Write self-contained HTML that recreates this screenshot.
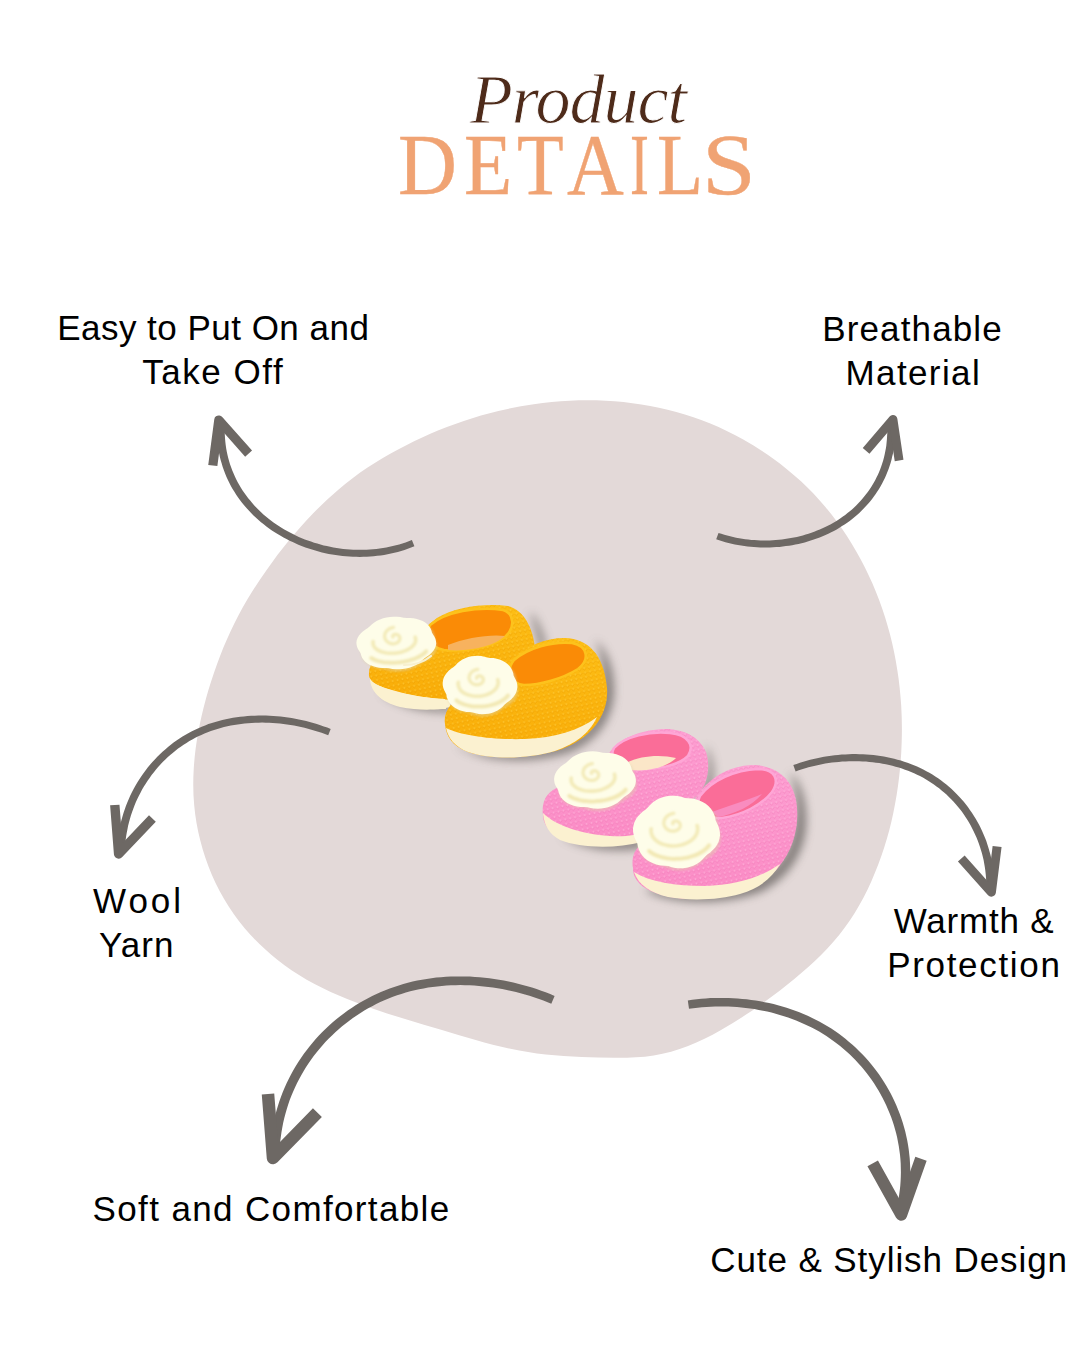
<!DOCTYPE html>
<html>
<head>
<meta charset="utf-8">
<style>
html,body{margin:0;padding:0;background:#fff;}
body{width:1080px;height:1350px;position:relative;overflow:hidden;font-family:"Liberation Sans",sans-serif;}
svg.main{position:absolute;left:0;top:0;}
.pl{position:absolute;top:65px;font-family:"Liberation Serif",serif;font-style:italic;color:#4e2b1a;font-size:70px;line-height:70px;transform-origin:0 0;}
.dl{position:absolute;top:121.4px;font-family:"Liberation Serif",serif;color:#f0a373;-webkit-text-stroke:0.4px #f0a373;font-size:87.6px;line-height:87.6px;transform-origin:0 0;}
.t{position:absolute;color:#000;font-family:"Liberation Sans",sans-serif;font-size:35px;line-height:35px;white-space:nowrap;}
</style>
</head>
<body>
<svg class="main" width="1080" height="1350" viewBox="0 0 1080 1350">
<defs>
<filter id="sh" x="-20%" y="-20%" width="140%" height="140%"><feGaussianBlur stdDeviation="4"/></filter>
</defs>
<path id="blob" fill="#e3d9d8" d="M267.0,569.4 C273.9,559.6 281.1,550.1 288.7,540.8 C296.3,531.6 304.2,522.6 312.5,514.0 C320.8,505.4 329.5,497.1 338.6,489.4 C347.7,481.6 357.3,474.5 367.2,467.8 C377.2,461.2 387.5,455.1 398.1,449.4 C408.6,443.8 419.4,438.6 430.3,433.8 C441.3,429.1 452.5,424.8 463.8,421.0 C475.2,417.1 486.7,413.8 498.4,411.0 C510.1,408.2 521.9,406.0 533.8,404.3 C545.7,402.5 557.7,401.4 569.7,400.8 C581.6,400.2 593.6,400.2 605.6,400.8 C617.6,401.4 629.5,402.6 641.3,404.5 C653.1,406.4 664.8,408.9 676.3,412.1 C687.8,415.2 699.2,419.1 710.3,423.6 C721.4,428.2 732.3,433.5 742.8,439.3 C753.3,445.2 763.5,451.7 773.3,458.7 C783.0,465.7 792.2,473.3 801.0,481.3 C809.7,489.4 817.9,498.1 825.6,507.2 C833.3,516.3 840.4,526.0 846.9,536.0 C853.5,546.1 859.4,556.5 864.8,567.3 C870.2,578.1 875.0,589.1 879.3,600.4 C883.5,611.7 887.1,623.1 890.1,634.7 C893.1,646.3 895.5,658.0 897.3,669.9 C899.2,681.7 900.4,693.6 901.2,705.5 C901.9,717.5 902.1,729.4 901.7,741.4 C901.4,753.4 900.5,765.4 899.1,777.3 C897.7,789.3 895.8,801.1 893.3,812.9 C890.9,824.6 887.8,836.2 884.2,847.6 C880.5,859.0 876.3,870.2 871.4,881.2 C866.5,892.1 861.0,902.8 854.7,913.0 C848.4,923.2 841.3,932.8 833.4,941.8 C825.5,950.8 816.9,959.3 808.0,967.3 C799.0,975.3 789.7,983.0 780.3,990.3 C770.8,997.6 761.2,1004.6 751.2,1011.3 C741.3,1017.9 731.1,1024.3 720.6,1030.2 C710.0,1036.2 699.2,1041.6 688.1,1046.0 C676.9,1050.3 665.5,1053.6 653.7,1055.4 C642.0,1057.2 630.0,1057.8 617.9,1057.8 C605.9,1057.9 593.8,1057.5 581.7,1057.0 C569.7,1056.5 557.7,1055.8 545.8,1054.5 C533.9,1053.2 522.2,1051.4 510.5,1048.8 C498.8,1046.3 487.2,1043.2 475.7,1039.9 C464.1,1036.6 452.6,1033.1 441.1,1029.7 C429.6,1026.3 418.1,1023.0 406.7,1019.5 C395.2,1016.0 383.8,1012.4 372.5,1008.4 C361.1,1004.5 349.9,1000.3 338.9,995.6 C327.9,990.8 317.1,985.6 306.7,979.7 C296.4,973.7 286.4,967.0 277.0,959.5 C267.6,952.1 258.7,943.8 250.6,935.0 C242.5,926.1 235.2,916.5 228.7,906.4 C222.2,896.3 216.6,885.7 211.8,874.7 C207.1,863.7 203.2,852.3 200.3,840.6 C197.3,829.0 195.3,817.2 194.2,805.3 C193.1,793.4 193.0,781.4 193.7,769.5 C194.4,757.6 195.8,745.6 198.0,733.8 C200.1,722.0 202.8,710.2 206.0,698.6 C209.3,687.0 212.9,675.5 217.0,664.3 C221.0,653.0 225.5,642.0 230.6,631.2 C235.6,620.4 241.2,609.8 247.3,599.5 C253.5,589.2 260.1,579.2 267.0,569.4Z"/>
<defs>
<linearGradient id="go" x1="0" y1="0" x2="0" y2="1"><stop offset="0" stop-color="#fdbf16"/><stop offset="1" stop-color="#f9ac08"/></linearGradient>
<linearGradient id="gp" x1="0" y1="0" x2="0" y2="1"><stop offset="0" stop-color="#fd9fd2"/><stop offset="1" stop-color="#fb8bc5"/></linearGradient>
<radialGradient id="gf" cx="0.5" cy="0.45" r="0.55"><stop offset="0" stop-color="#fcf6cc"/><stop offset="0.6" stop-color="#fefce6"/><stop offset="1" stop-color="#f6f1d6"/></radialGradient>
<pattern id="knitO" width="5" height="4.5" patternUnits="userSpaceOnUse" patternTransform="rotate(-12)"><path d="M0.5,1 L2.5,3.2 L4.5,1" fill="none" stroke="#e99a00" stroke-width="0.9" opacity="0.45"/><circle cx="2.5" cy="1" r="0.9" fill="#ffd24a" opacity="0.5"/></pattern>
<pattern id="knitP" width="5" height="4.5" patternUnits="userSpaceOnUse" patternTransform="rotate(-12)"><path d="M0.5,1 L2.5,3.2 L4.5,1" fill="none" stroke="#ee78b4" stroke-width="0.9" opacity="0.45"/><circle cx="2.5" cy="1" r="0.9" fill="#ffc0e2" opacity="0.5"/></pattern>
<pattern id="knitC" width="4" height="6" patternUnits="userSpaceOnUse" patternTransform="rotate(-8)"><path d="M2,0.5 L2,5" stroke="#e6dcb8" stroke-width="1" opacity="0.6"/></pattern>
<filter id="blur6" x="-30%" y="-30%" width="160%" height="160%"><feGaussianBlur stdDeviation="5"/></filter>
<filter id="blur05" x="-10%" y="-10%" width="120%" height="120%"><feGaussianBlur stdDeviation="0.45"/></filter>
<filter id="blur1" x="-20%" y="-20%" width="140%" height="140%"><feGaussianBlur stdDeviation="0.9"/></filter>
<filter id="blur2" x="-10%" y="-10%" width="120%" height="120%"><feGaussianBlur stdDeviation="0.8"/></filter>
</defs>
<!-- ===== ORANGE PAIR ===== -->
<g id="orange">
  <!-- shadows -->
  <path fill="#6f6a68" opacity="0.75" filter="url(#blur6)" d="M380,690 C395,708 430,714 460,712 C500,708 530,690 545,660 L545,640 C540,625 535,615 530,612 L540,650 C530,690 480,705 440,705 Z"/>
  <path fill="#6f6a68" opacity="0.8" filter="url(#blur6)" d="M455,745 C480,762 530,765 570,752 C600,740 614,715 614,690 C614,665 605,648 595,640 C605,660 606,700 590,725 C570,748 520,755 470,750 Z"/>
  <!-- back shoe -->
  <path fill="#fbf1d0" d="M370,676 C369,690 380,702 400,707 C420,711 440,710 450,707 L452,690 L372,676 Z"/>
  <path fill="url(#go)" d="M369,676 C368,662 378,652 398,646 C415,640 424,628 437,618 C455,607 485,603 508,606 C524,610 533,628 535,648 L536,668 C520,690 490,700 460,700 C430,700 405,694 385,688 C376,685 370,681 369,676 Z"/>
  <path fill="url(#knitO)" d="M369,676 C368,662 378,652 398,646 C415,640 424,628 437,618 C455,607 485,603 508,606 C524,610 533,628 535,648 L536,668 C520,690 490,700 460,700 C430,700 405,694 385,688 C376,685 370,681 369,676 Z"/>
  <path fill="#fbf1d0" d="M372,682 C385,690 410,697 445,699 L446,709 C420,710 395,706 382,699 C375,694 372,688 372,682 Z"/>
  <path fill="#fa8b06" stroke="#fdc21c" stroke-width="2.5" d="M430,625 C445,612 478,606 503,610 C515,614 515,628 505,637 C490,648 462,652 444,650 C430,648 425,634 430,625 Z"/>
  <path fill="#f7b25e" d="M448,645 C465,638 490,634 505,636 C495,646 468,652 448,650 Z"/>
  <!-- front shoe -->
  <path fill="url(#go)" d="M445,724 C443,711 452,700 470,690 C486,681 500,670 512,659 C526,646 545,638 565,638 C588,639 604,654 607,688 C609,714 592,738 562,749 C532,759 492,760 468,752 C452,746 446,736 445,724 Z"/>
  <path fill="url(#knitO)" d="M445,724 C443,711 452,700 470,690 C486,681 500,670 512,659 C526,646 545,638 565,638 C588,639 604,654 607,688 C609,714 592,738 562,749 C532,759 492,760 468,752 C452,746 446,736 445,724 Z"/>
  <path fill="#fbf1d0" d="M446,728 C462,736 495,740 525,739 C555,738 580,730 597,717 C590,733 575,744 555,751 C528,759 492,760 468,752 C455,747 448,738 446,728 Z"/>
  <path fill="#fa8b06" stroke="#fdc21c" stroke-width="2.5" d="M514,660 C528,648 552,641 572,643 C588,646 590,660 578,669 C562,679 540,685 524,685 C510,684 506,670 514,660 Z"/>
  <!-- flowers -->
<g>
<path fill="#e2d6ae" opacity="0.45" filter="url(#blur2)" d="M436.0,641.5 L436.8,643.6 L437.1,645.9 L437.0,648.2 L436.4,650.5 L435.3,652.8 L433.8,654.9 L431.9,657.0 L429.6,658.8 L427.0,660.5 L424.2,662.0 L421.4,663.3 L419.2,665.1 L416.6,666.8 L413.8,668.3 L410.8,669.6 L407.5,670.6 L404.0,671.3 L400.5,671.6 L397.1,671.7 L393.6,671.5 L390.4,671.0 L387.2,670.2 L384.3,669.4 L381.0,669.1 L377.7,668.6 L374.5,667.9 L371.6,666.9 L368.9,665.6 L366.5,664.0 L364.5,662.2 L362.9,660.3 L361.8,658.2 L361.1,656.0 L360.8,653.8 L360.6,651.6 L359.6,649.5 L358.8,647.4 L358.5,645.1 L358.6,642.8 L359.2,640.5 L360.3,638.2 L361.8,636.1 L363.7,634.0 L366.0,632.2 L368.6,630.5 L371.4,629.0 L374.2,627.7 L376.4,625.9 L379.0,624.2 L381.8,622.7 L384.8,621.4 L388.1,620.4 L391.6,619.7 L395.1,619.4 L398.5,619.3 L402.0,619.5 L405.2,620.0 L408.4,620.8 L411.3,621.6 L414.6,621.9 L417.9,622.4 L421.1,623.1 L424.0,624.1 L426.7,625.4 L429.1,627.0 L431.1,628.8 L432.7,630.7 L433.8,632.8 L434.5,635.0 L434.8,637.2 L435.0,639.4Z"/>
<path fill="#fefde9" filter="url(#blur05)" d="M435.5,638.9 L436.0,641.2 L436.2,643.5 L435.8,645.9 L434.9,648.2 L433.6,650.4 L431.9,652.6 L429.8,654.5 L427.4,656.3 L424.8,658.0 L422.7,659.8 L420.6,661.7 L418.3,663.6 L415.6,665.2 L412.6,666.6 L409.4,667.8 L406.0,668.6 L402.6,669.1 L399.1,669.3 L395.6,669.2 L392.3,668.9 L389.1,668.3 L385.8,668.1 L382.4,668.0 L379.1,667.7 L375.8,667.0 L372.7,666.1 L369.9,664.9 L367.4,663.4 L365.2,661.7 L363.5,659.8 L362.1,657.7 L361.2,655.5 L360.6,653.3 L359.4,651.3 L358.1,649.3 L357.1,647.1 L356.6,644.8 L356.4,642.5 L356.8,640.1 L357.7,637.8 L359.0,635.6 L360.7,633.4 L362.8,631.5 L365.2,629.7 L367.8,628.0 L369.9,626.2 L372.0,624.3 L374.3,622.4 L377.0,620.8 L380.0,619.4 L383.2,618.2 L386.6,617.4 L390.0,616.9 L393.5,616.7 L397.0,616.8 L400.3,617.1 L403.5,617.7 L406.8,617.9 L410.2,618.0 L413.5,618.3 L416.8,619.0 L419.9,619.9 L422.7,621.1 L425.2,622.6 L427.4,624.3 L429.1,626.2 L430.5,628.3 L431.4,630.5 L432.0,632.7 L433.2,634.7 L434.5,636.7Z"/>
<g filter="url(#blur1)">
<path fill="none" stroke="#efe4a8" stroke-width="4" opacity="0.8" stroke-linecap="round" d="M426.2,651.3 L425.3,652.3 L424.1,653.4 L422.9,654.4 L421.4,655.3 L419.9,656.3 L418.2,657.2 L416.4,658.0 L414.5,658.8 L412.5,659.5 L410.4,660.2 L408.3,660.8 L406.1,661.3 L403.8,661.7 L401.5,662.1 L399.2,662.4 L396.8,662.6 L394.5,662.7 L392.2,662.8 L389.9,662.8 L387.6,662.6 L385.5,662.4 L383.3,662.2 L381.3,661.8 L379.3,661.4 L377.5,660.9 L375.8,660.3 L374.2,659.6 L372.7,658.9 L371.3,658.1"/>
<path fill="none" stroke="#efe4a8" stroke-width="3.6" opacity="0.75" stroke-linecap="round" d="M415.1,637.2 L415.6,638.6 L415.7,640.0 L415.5,641.4 L415.1,642.8 L414.3,644.2 L413.2,645.6 L411.9,646.9 L410.3,648.1 L408.4,649.2 L406.4,650.3 L404.2,651.1 L401.8,651.9 L399.4,652.5 L396.9,652.9 L394.3,653.2 L391.7,653.3 L389.2,653.2 L386.7,653.0 L384.4,652.6 L382.2,652.0 L380.2,651.3 L378.4,650.4 L376.8,649.4 L375.4,648.3 L374.4,647.1 L373.6,645.8 L373.1,644.4 L373.0,643.0 L373.1,641.6"/>
<path fill="none" stroke="#efe4a8" stroke-width="3.2" opacity="0.75" stroke-linecap="round" d="M392.9,637.0 L392.8,636.8 L392.7,636.5 L392.7,636.3 L392.8,636.0 L392.8,635.7 L393.0,635.5 L393.2,635.2 L393.5,634.9 L393.8,634.7 L394.2,634.5 L394.6,634.4 L395.1,634.3 L395.6,634.3 L396.1,634.3 L396.6,634.4 L397.2,634.5 L397.7,634.8 L398.2,635.1 L398.6,635.4 L399.0,635.9 L399.4,636.4 L399.6,636.9 L399.8,637.5 L399.9,638.1 L399.9,638.7 L399.8,639.4 L399.6,640.0 L399.3,640.7 L398.8,641.3 L398.3,641.9 L397.7,642.4 L396.9,642.8 L396.1,643.2 L395.3,643.5 L394.3,643.7 L393.3,643.8 L392.3,643.8 L391.3,643.6 L390.3,643.4 L389.3,643.0 L388.4,642.5 L387.5,641.9 L386.7,641.2 L386.0,640.4 L385.5,639.5 L385.0,638.6 L384.7,637.5 L384.6,636.5 L384.6,635.4 L384.8,634.3 L385.2,633.2 L385.7,632.2 L386.4,631.2 L387.3,630.3 L388.3,629.5 L389.5,628.7 L390.7,628.1 L392.1,627.7 L393.5,627.4"/>
</g>
</g>
  <!-- yarn tail --><path fill="none" stroke="#f7f0cf" stroke-width="2.2" stroke-linecap="round" d="M404,665 C414,665 424,662 431,656"/>
<g>
<path fill="#e2d6ae" opacity="0.45" filter="url(#blur2)" d="M517.4,685.0 L518.0,687.4 L518.3,689.9 L518.1,692.4 L517.5,694.9 L516.5,697.4 L515.1,699.7 L513.2,701.8 L511.0,703.8 L508.6,705.5 L505.9,707.0 L503.3,708.3 L501.1,710.2 L498.7,711.9 L496.0,713.4 L493.1,714.7 L490.0,715.6 L486.8,716.2 L483.5,716.5 L480.3,716.4 L477.1,715.9 L474.0,715.2 L471.1,714.2 L468.3,713.1 L465.2,712.7 L462.2,712.0 L459.2,711.0 L456.5,709.7 L454.0,708.2 L451.8,706.3 L450.0,704.3 L448.5,702.0 L447.5,699.6 L446.9,697.2 L446.7,694.7 L446.6,692.3 L445.6,690.0 L445.0,687.6 L444.7,685.1 L444.9,682.6 L445.5,680.1 L446.5,677.6 L447.9,675.3 L449.8,673.2 L452.0,671.2 L454.4,669.5 L457.1,668.0 L459.7,666.7 L461.9,664.8 L464.3,663.1 L467.0,661.6 L469.9,660.3 L473.0,659.4 L476.2,658.8 L479.5,658.5 L482.7,658.6 L485.9,659.1 L489.0,659.8 L491.9,660.8 L494.7,661.9 L497.8,662.3 L500.8,663.0 L503.8,664.0 L506.5,665.3 L509.0,666.8 L511.2,668.7 L513.0,670.7 L514.5,673.0 L515.5,675.4 L516.1,677.8 L516.3,680.3 L516.4,682.7Z"/>
<path fill="#fefde9" filter="url(#blur05)" d="M516.8,682.4 L517.3,685.0 L517.3,687.5 L516.9,690.1 L516.1,692.7 L514.8,695.1 L513.1,697.3 L511.1,699.4 L508.9,701.3 L506.4,702.9 L504.4,704.8 L502.4,706.9 L500.1,708.8 L497.6,710.4 L494.8,711.8 L491.8,712.9 L488.6,713.7 L485.3,714.1 L482.0,714.2 L478.8,713.9 L475.7,713.3 L472.7,712.5 L469.7,712.1 L466.5,711.9 L463.4,711.3 L460.3,710.5 L457.5,709.3 L454.8,707.8 L452.5,706.0 L450.5,704.0 L448.9,701.8 L447.7,699.5 L446.8,697.0 L446.4,694.6 L445.3,692.3 L444.1,690.0 L443.2,687.6 L442.7,685.0 L442.7,682.5 L443.1,679.9 L443.9,677.3 L445.2,674.9 L446.9,672.7 L448.9,670.6 L451.1,668.7 L453.6,667.1 L455.6,665.2 L457.6,663.1 L459.9,661.2 L462.4,659.6 L465.2,658.2 L468.2,657.1 L471.4,656.3 L474.7,655.9 L478.0,655.8 L481.2,656.1 L484.3,656.7 L487.3,657.5 L490.3,657.9 L493.5,658.1 L496.6,658.7 L499.7,659.5 L502.5,660.7 L505.2,662.2 L507.5,664.0 L509.5,666.0 L511.1,668.2 L512.3,670.5 L513.2,673.0 L513.6,675.4 L514.7,677.7 L515.9,680.0Z"/>
<g filter="url(#blur1)">
<path fill="none" stroke="#efe4a8" stroke-width="4" opacity="0.8" stroke-linecap="round" d="M508.0,695.5 L507.0,696.7 L506.0,697.8 L504.7,698.8 L503.4,699.8 L501.9,700.8 L500.3,701.7 L498.6,702.5 L496.8,703.3 L494.9,704.0 L493.0,704.6 L490.9,705.1 L488.9,705.6 L486.7,706.0 L484.6,706.3 L482.4,706.5 L480.2,706.6 L478.0,706.6 L475.8,706.6 L473.7,706.4 L471.6,706.2 L469.5,705.8 L467.6,705.4 L465.7,704.9 L463.8,704.3 L462.1,703.7 L460.5,703.0 L459.0,702.2 L457.7,701.3 L456.4,700.4"/>
<path fill="none" stroke="#efe4a8" stroke-width="3.6" opacity="0.75" stroke-linecap="round" d="M497.7,679.7 L498.1,681.2 L498.2,682.7 L498.0,684.3 L497.5,685.8 L496.8,687.3 L495.7,688.8 L494.5,690.2 L492.9,691.4 L491.2,692.6 L489.3,693.6 L487.2,694.5 L485.0,695.2 L482.7,695.7 L480.3,696.1 L477.9,696.2 L475.5,696.2 L473.1,696.0 L470.8,695.6 L468.6,695.0 L466.6,694.3 L464.7,693.4 L463.0,692.4 L461.5,691.2 L460.3,689.9 L459.4,688.5 L458.7,687.0 L458.3,685.5 L458.1,684.0 L458.3,682.4"/>
<path fill="none" stroke="#efe4a8" stroke-width="3.2" opacity="0.75" stroke-linecap="round" d="M476.7,678.3 L476.7,678.1 L476.6,677.9 L476.6,677.7 L476.7,677.4 L476.8,677.1 L476.9,676.9 L477.2,676.6 L477.4,676.4 L477.8,676.2 L478.1,676.0 L478.5,675.9 L479.0,675.9 L479.5,675.8 L480.0,675.9 L480.5,676.0 L481.0,676.2 L481.4,676.4 L481.9,676.7 L482.3,677.1 L482.7,677.5 L483.0,678.0 L483.2,678.5 L483.3,679.0 L483.4,679.6 L483.4,680.2 L483.2,680.8 L483.0,681.4 L482.7,682.0 L482.3,682.6 L481.7,683.1 L481.1,683.6 L480.4,684.0 L479.6,684.3 L478.8,684.6 L477.9,684.7 L477.0,684.8 L476.0,684.7 L475.1,684.6 L474.1,684.3 L473.2,683.9 L472.4,683.4 L471.6,682.8 L470.9,682.2 L470.2,681.4 L469.7,680.5 L469.4,679.6 L469.1,678.7 L469.1,677.7 L469.1,676.7 L469.4,675.6 L469.8,674.6 L470.3,673.7 L471.0,672.8 L471.8,671.9 L472.8,671.2 L473.9,670.6 L475.1,670.0 L476.4,669.6 L477.8,669.4"/>
</g>
</g>
</g>
<!-- ===== PINK PAIR ===== -->
<g id="pink">
  <path fill="#6f6a68" opacity="0.75" filter="url(#blur6)" d="M555,830 C570,846 600,852 630,850 C670,846 700,820 712,790 C716,770 712,752 705,745 C712,770 705,800 680,820 C655,840 600,845 560,835 Z"/>
  <path fill="#6f6a68" opacity="0.85" filter="url(#blur6)" d="M645,890 C670,904 720,906 760,892 C790,878 806,850 806,820 C806,795 798,780 790,772 C800,800 798,840 780,862 C755,890 700,898 655,888 Z"/>
  <!-- back pink shoe -->
  <path fill="url(#gp)" d="M543,815 C541,800 548,790 562,786 C580,780 598,770 610,752 C620,738 640,730 665,729 C685,729 700,738 706,752 C711,768 707,785 698,795 L640,838 C610,846 575,845 555,835 C547,829 543,822 543,815 Z"/>
  <path fill="url(#knitP)" d="M543,815 C541,800 548,790 562,786 C580,780 598,770 610,752 C620,738 640,730 665,729 C685,729 700,738 706,752 C711,768 707,785 698,795 L640,838 C610,846 575,845 555,835 C547,829 543,822 543,815 Z"/>
  <path fill="#fbf1d0" d="M543,813 C555,825 580,834 610,836 C625,837 638,835 645,832 L642,842 C615,849 580,848 560,840 C549,834 544,825 543,813 Z"/>
  <path fill="#fa6d98" stroke="#fea6d6" stroke-width="2.5" d="M614,748 C625,736 650,731 670,733 C688,735 695,745 688,756 C678,766 655,770 638,769 C620,768 608,758 614,748 Z"/>
  <path fill="#fbe6c8" d="M628,762 C640,756 660,754 676,758 C666,768 645,772 630,770 Z"/>
  <!-- front pink shoe -->
  <path fill="url(#gp)" d="M633,868 C630,852 640,842 656,834 C672,826 688,808 700,792 C712,776 730,766 752,765 C775,765 792,778 796,800 C800,822 795,848 778,868 C758,888 728,898 700,899 C675,900 650,894 640,884 C635,879 633,874 633,868 Z"/>
  <path fill="url(#knitP)" d="M633,868 C630,852 640,842 656,834 C672,826 688,808 700,792 C712,776 730,766 752,765 C775,765 792,778 796,800 C800,822 795,848 778,868 C758,888 728,898 700,899 C675,900 650,894 640,884 C635,879 633,874 633,868 Z"/>
  <path fill="#fbf1d0" d="M634,872 C650,882 675,886 705,886 C735,885 760,878 780,864 C772,878 760,888 740,894 C720,900 690,901 668,897 C650,893 638,884 634,872 Z"/>
  <path fill="#fa6d98" stroke="#fea6d6" stroke-width="2.5" d="M700,796 C712,780 735,770 758,769 C775,769 780,780 772,792 C762,805 742,815 722,818 C706,819 694,808 700,796 Z"/>
  <path fill="#f98cbf" d="M712,812 C728,806 748,800 762,794 C752,806 735,814 718,817 Z"/>
  <!-- pink flowers -->
<g>
<path fill="#e2d6ae" opacity="0.45" filter="url(#blur2)" d="M635.8,779.1 L636.5,781.4 L636.8,783.9 L636.7,786.4 L636.0,788.9 L634.9,791.3 L633.4,793.6 L631.4,795.8 L629.0,797.8 L626.3,799.5 L623.4,801.1 L620.5,802.5 L618.2,804.4 L615.6,806.1 L612.7,807.7 L609.5,809.0 L606.1,810.0 L602.6,810.7 L599.0,811.0 L595.4,811.0 L591.9,810.7 L588.5,810.0 L585.4,809.1 L582.3,808.2 L578.9,807.8 L575.6,807.2 L572.3,806.3 L569.3,805.1 L566.6,803.6 L564.2,801.9 L562.1,799.9 L560.6,797.7 L559.4,795.4 L558.7,793.0 L558.4,790.6 L558.3,788.2 L557.2,785.9 L556.5,783.6 L556.2,781.1 L556.3,778.6 L557.0,776.1 L558.1,773.7 L559.6,771.4 L561.6,769.2 L564.0,767.2 L566.7,765.5 L569.6,763.9 L572.5,762.5 L574.8,760.6 L577.4,758.9 L580.3,757.3 L583.5,756.0 L586.9,755.0 L590.4,754.3 L594.0,754.0 L597.6,754.0 L601.1,754.3 L604.5,755.0 L607.6,755.9 L610.7,756.8 L614.1,757.2 L617.4,757.8 L620.7,758.7 L623.7,759.9 L626.4,761.4 L628.8,763.1 L630.9,765.1 L632.4,767.3 L633.6,769.6 L634.3,772.0 L634.6,774.4 L634.7,776.8Z"/>
<path fill="#fefde9" filter="url(#blur05)" d="M635.3,776.5 L635.8,779.0 L635.9,781.5 L635.5,784.1 L634.6,786.6 L633.2,789.0 L631.4,791.3 L629.2,793.4 L626.8,795.3 L624.1,797.0 L621.9,798.9 L619.7,801.0 L617.3,802.9 L614.5,804.6 L611.4,806.1 L608.1,807.2 L604.7,808.1 L601.1,808.6 L597.5,808.7 L594.0,808.5 L590.6,808.1 L587.3,807.3 L583.9,807.1 L580.5,806.9 L577.0,806.4 L573.7,805.7 L570.5,804.6 L567.6,803.2 L565.1,801.5 L562.9,799.6 L561.1,797.4 L559.8,795.2 L558.8,792.8 L558.2,790.4 L557.1,788.1 L555.7,785.9 L554.7,783.5 L554.2,781.0 L554.1,778.5 L554.5,775.9 L555.4,773.4 L556.8,771.0 L558.6,768.7 L560.8,766.6 L563.2,764.7 L565.9,763.0 L568.1,761.1 L570.3,759.0 L572.7,757.1 L575.5,755.4 L578.6,753.9 L581.9,752.8 L585.3,751.9 L588.9,751.4 L592.5,751.3 L596.0,751.5 L599.4,751.9 L602.7,752.7 L606.1,752.9 L609.5,753.1 L613.0,753.6 L616.3,754.3 L619.5,755.4 L622.4,756.8 L624.9,758.5 L627.1,760.4 L628.9,762.6 L630.2,764.8 L631.2,767.2 L631.8,769.6 L632.9,771.9 L634.3,774.1Z"/>
<g filter="url(#blur1)">
<path fill="none" stroke="#efe4a8" stroke-width="4" opacity="0.8" stroke-linecap="round" d="M625.7,789.7 L624.7,790.8 L623.5,791.9 L622.2,793.0 L620.7,794.0 L619.1,795.0 L617.4,795.9 L615.5,796.8 L613.6,797.6 L611.5,798.3 L609.3,799.0 L607.1,799.6 L604.8,800.1 L602.5,800.5 L600.1,800.9 L597.7,801.1 L595.3,801.3 L593.0,801.4 L590.6,801.4 L588.2,801.3 L585.9,801.1 L583.7,800.9 L581.5,800.5 L579.4,800.1 L577.4,799.5 L575.6,798.9 L573.8,798.3 L572.1,797.5 L570.6,796.7 L569.3,795.8"/>
<path fill="none" stroke="#efe4a8" stroke-width="3.6" opacity="0.75" stroke-linecap="round" d="M614.4,774.2 L614.8,775.7 L614.9,777.2 L614.7,778.8 L614.2,780.3 L613.4,781.8 L612.3,783.3 L610.9,784.7 L609.2,785.9 L607.3,787.1 L605.3,788.2 L603.0,789.1 L600.6,789.9 L598.0,790.4 L595.4,790.9 L592.8,791.1 L590.2,791.1 L587.6,791.0 L585.1,790.7 L582.7,790.2 L580.4,789.5 L578.3,788.7 L576.5,787.7 L574.9,786.5 L573.5,785.3 L572.4,784.0 L571.7,782.5 L571.2,781.1 L571.1,779.5 L571.2,778.0"/>
<path fill="none" stroke="#efe4a8" stroke-width="3.2" opacity="0.75" stroke-linecap="round" d="M591.6,773.4 L591.4,773.2 L591.4,773.0 L591.4,772.7 L591.4,772.5 L591.5,772.2 L591.7,771.9 L591.9,771.6 L592.2,771.4 L592.5,771.2 L592.9,771.0 L593.3,770.8 L593.8,770.8 L594.3,770.7 L594.8,770.8 L595.4,770.9 L595.9,771.0 L596.4,771.3 L596.9,771.6 L597.4,772.0 L597.8,772.4 L598.1,772.9 L598.4,773.5 L598.6,774.1 L598.7,774.7 L598.7,775.3 L598.5,776.0 L598.3,776.7 L598.0,777.3 L597.5,777.9 L597.0,778.5 L596.3,779.0 L595.5,779.5 L594.7,779.9 L593.8,780.2 L592.8,780.3 L591.8,780.4 L590.8,780.4 L589.7,780.2 L588.7,780.0 L587.7,779.6 L586.8,779.0 L585.9,778.4 L585.1,777.7 L584.4,776.9 L583.8,775.9 L583.4,774.9 L583.1,773.9 L583.0,772.8 L583.1,771.7 L583.3,770.6 L583.7,769.5 L584.3,768.4 L585.0,767.4 L585.9,766.5 L587.0,765.7 L588.2,764.9 L589.5,764.3 L590.9,763.9 L592.4,763.6"/>
</g>
</g>
<g>
<path fill="#e2d6ae" opacity="0.45" filter="url(#blur2)" d="M719.8,831.6 L720.5,834.6 L720.9,837.7 L720.7,840.8 L720.0,844.0 L718.8,847.0 L717.1,849.9 L715.0,852.5 L712.5,854.9 L709.6,857.0 L706.6,858.8 L703.5,860.5 L701.0,862.8 L698.2,864.9 L695.1,866.8 L691.7,868.3 L688.1,869.5 L684.3,870.2 L680.5,870.5 L676.7,870.4 L673.0,869.8 L669.4,868.9 L666.0,867.7 L662.8,866.3 L659.2,865.8 L655.6,864.9 L652.2,863.6 L649.0,862.0 L646.1,860.0 L643.5,857.7 L641.4,855.2 L639.7,852.4 L638.5,849.4 L637.8,846.4 L637.5,843.3 L637.3,840.3 L636.2,837.4 L635.5,834.4 L635.1,831.3 L635.3,828.2 L636.0,825.0 L637.2,822.0 L638.9,819.1 L641.0,816.5 L643.5,814.1 L646.4,812.0 L649.4,810.2 L652.5,808.5 L655.0,806.2 L657.8,804.1 L660.9,802.2 L664.3,800.7 L667.9,799.5 L671.7,798.8 L675.5,798.5 L679.3,798.6 L683.0,799.2 L686.6,800.1 L690.0,801.3 L693.2,802.7 L696.8,803.2 L700.4,804.1 L703.8,805.4 L707.0,807.0 L709.9,809.0 L712.5,811.3 L714.6,813.8 L716.3,816.6 L717.5,819.6 L718.2,822.6 L718.5,825.7 L718.7,828.7Z"/>
<path fill="#fefde9" filter="url(#blur05)" d="M719.3,829.0 L719.9,832.2 L720.0,835.4 L719.5,838.6 L718.6,841.7 L717.1,844.7 L715.2,847.5 L712.8,850.1 L710.2,852.4 L707.3,854.4 L705.0,856.8 L702.7,859.3 L700.1,861.7 L697.1,863.7 L693.9,865.5 L690.3,866.8 L686.6,867.7 L682.9,868.2 L679.0,868.3 L675.3,867.9 L671.6,867.2 L668.2,866.1 L664.6,865.7 L660.9,865.4 L657.3,864.7 L653.7,863.6 L650.4,862.1 L647.3,860.2 L644.6,858.0 L642.3,855.5 L640.4,852.8 L638.9,849.8 L637.9,846.8 L637.4,843.7 L636.1,840.9 L634.7,838.0 L633.7,835.0 L633.1,831.8 L633.0,828.6 L633.5,825.4 L634.4,822.3 L635.9,819.3 L637.8,816.5 L640.2,813.9 L642.8,811.6 L645.7,809.6 L648.0,807.2 L650.3,804.7 L652.9,802.3 L655.9,800.3 L659.1,798.5 L662.7,797.2 L666.4,796.3 L670.1,795.8 L674.0,795.7 L677.7,796.1 L681.4,796.8 L684.8,797.9 L688.4,798.3 L692.1,798.6 L695.7,799.3 L699.3,800.4 L702.6,801.9 L705.7,803.8 L708.4,806.0 L710.7,808.5 L712.6,811.2 L714.1,814.2 L715.1,817.2 L715.6,820.3 L716.9,823.1 L718.3,826.0Z"/>
<g filter="url(#blur1)">
<path fill="none" stroke="#efe4a8" stroke-width="4" opacity="0.8" stroke-linecap="round" d="M709.1,845.3 L708.0,846.7 L706.8,848.0 L705.4,849.3 L703.8,850.6 L702.1,851.7 L700.2,852.8 L698.3,853.9 L696.2,854.8 L694.0,855.7 L691.7,856.4 L689.3,857.1 L686.9,857.7 L684.4,858.1 L681.9,858.5 L679.3,858.7 L676.8,858.8 L674.2,858.9 L671.7,858.8 L669.2,858.6 L666.8,858.3 L664.4,857.8 L662.1,857.3 L659.9,856.7 L657.8,856.0 L655.8,855.1 L653.9,854.2 L652.1,853.2 L650.5,852.1 L649.1,851.0"/>
<path fill="none" stroke="#efe4a8" stroke-width="3.6" opacity="0.75" stroke-linecap="round" d="M697.1,825.5 L697.6,827.4 L697.7,829.3 L697.5,831.2 L696.9,833.1 L696.1,835.0 L694.9,836.8 L693.4,838.5 L691.6,840.1 L689.6,841.5 L687.4,842.7 L684.9,843.8 L682.4,844.7 L679.7,845.3 L676.9,845.8 L674.1,846.0 L671.3,845.9 L668.5,845.6 L665.9,845.1 L663.3,844.4 L660.9,843.5 L658.7,842.4 L656.8,841.1 L655.1,839.6 L653.6,838.0 L652.5,836.3 L651.7,834.4 L651.2,832.5 L651.0,830.6 L651.2,828.7"/>
<path fill="none" stroke="#efe4a8" stroke-width="3.2" opacity="0.75" stroke-linecap="round" d="M672.9,823.8 L672.8,823.6 L672.8,823.3 L672.7,823.1 L672.8,822.8 L672.9,822.5 L673.1,822.2 L673.3,821.9 L673.6,821.7 L673.9,821.4 L674.3,821.3 L674.8,821.1 L675.3,821.0 L675.8,821.0 L676.4,821.0 L676.9,821.1 L677.5,821.3 L678.0,821.6 L678.5,821.9 L679.0,822.3 L679.4,822.8 L679.8,823.3 L680.1,823.9 L680.2,824.5 L680.3,825.2 L680.3,825.9 L680.2,826.6 L679.9,827.3 L679.5,828.0 L679.0,828.6 L678.4,829.2 L677.7,829.8 L676.9,830.2 L676.0,830.6 L675.1,830.9 L674.1,831.1 L673.0,831.2 L671.9,831.1 L670.8,830.9 L669.7,830.6 L668.6,830.2 L667.6,829.6 L666.7,829.0 L665.9,828.2 L665.2,827.3 L664.6,826.3 L664.2,825.2 L663.9,824.1 L663.8,823.0 L663.9,821.8 L664.2,820.6 L664.6,819.5 L665.2,818.3 L666.0,817.3 L667.0,816.3 L668.1,815.4 L669.4,814.7 L670.8,814.1 L672.3,813.6 L673.9,813.3"/>
</g>
</g>
</g>

<path fill="#6d6864" d="M411.9,540.0 L408.7,541.2 L405.6,542.4 L402.4,543.4 L399.2,544.4 L396.0,545.3 L392.8,546.1 L389.5,546.8 L386.3,547.4 L383.0,548.0 L379.7,548.5 L376.4,548.9 L373.1,549.2 L369.8,549.5 L366.5,549.7 L363.1,549.8 L359.8,549.8 L356.5,549.8 L353.2,549.7 L349.9,549.5 L346.5,549.2 L343.2,548.9 L339.9,548.5 L336.7,548.0 L333.4,547.4 L330.1,546.8 L326.9,546.1 L323.7,545.4 L320.5,544.5 L317.3,543.6 L314.1,542.7 L311.0,541.6 L307.9,540.5 L304.8,539.4 L301.8,538.2 L298.8,536.9 L295.8,535.5 L292.9,534.1 L290.0,532.6 L287.1,531.0 L284.3,529.4 L281.5,527.7 L278.8,526.0 L276.1,524.2 L273.5,522.4 L270.9,520.4 L268.3,518.5 L265.9,516.4 L263.4,514.4 L261.1,512.2 L258.8,510.0 L256.5,507.8 L254.3,505.4 L252.2,503.1 L250.2,500.6 L248.2,498.2 L246.2,495.6 L244.4,493.1 L242.6,490.4 L240.9,487.7 L239.3,485.0 L237.7,482.2 L236.3,479.4 L234.9,476.5 L233.6,473.6 L232.3,470.6 L231.2,467.6 L230.1,464.5 L229.2,461.4 L228.3,458.2 L227.5,455.0 L226.8,451.7 L226.2,448.4 L225.7,445.0 L225.3,441.6 L225.0,438.1 L224.8,434.6 L224.7,431.1 L224.7,427.5 L224.8,423.9 L216.9,423.5 L216.7,427.4 L216.7,431.2 L216.9,435.0 L217.1,438.7 L217.4,442.4 L217.9,446.1 L218.4,449.7 L219.1,453.2 L219.8,456.7 L220.7,460.2 L221.7,463.6 L222.7,466.9 L223.9,470.2 L225.1,473.5 L226.4,476.7 L227.8,479.8 L229.4,482.9 L230.9,485.9 L232.6,488.9 L234.4,491.8 L236.2,494.7 L238.1,497.5 L240.1,500.2 L242.2,502.9 L244.3,505.5 L246.5,508.1 L248.8,510.6 L251.1,513.0 L253.5,515.4 L256.0,517.7 L258.5,520.0 L261.0,522.2 L263.7,524.3 L266.4,526.4 L269.1,528.4 L271.9,530.4 L274.7,532.3 L277.6,534.1 L280.6,535.8 L283.5,537.5 L286.5,539.1 L289.6,540.7 L292.7,542.1 L295.8,543.6 L299.0,544.9 L302.2,546.2 L305.4,547.4 L308.7,548.5 L312.0,549.6 L315.3,550.6 L318.6,551.5 L322.0,552.4 L325.3,553.2 L328.7,553.9 L332.1,554.5 L335.6,555.1 L339.0,555.5 L342.5,556.0 L345.9,556.3 L349.4,556.5 L352.9,556.7 L356.3,556.8 L359.8,556.9 L363.3,556.8 L366.8,556.7 L370.3,556.5 L373.7,556.2 L377.2,555.8 L380.7,555.4 L384.1,554.9 L387.6,554.2 L391.0,553.6 L394.4,552.8 L397.8,551.9 L401.2,551.0 L404.5,549.9 L407.8,548.8 L411.1,547.6 L414.4,546.3Z"/>
<path fill="none" stroke="#6d6864" stroke-width="9.2" stroke-linecap="butt" stroke-linejoin="round" d="M212.8,465.5 L218.8,420 L248.6,453.6"/>
<path fill="#6d6864" d="M716.2,539.3 L719.2,540.3 L722.3,541.3 L725.4,542.2 L728.5,543.0 L731.6,543.7 L734.8,544.4 L737.9,545.0 L741.1,545.6 L744.3,546.1 L747.5,546.5 L750.7,546.8 L753.9,547.1 L757.1,547.3 L760.3,547.4 L763.5,547.5 L766.7,547.5 L769.9,547.5 L773.1,547.3 L776.3,547.1 L779.5,546.9 L782.7,546.5 L785.9,546.1 L789.1,545.7 L792.2,545.2 L795.4,544.6 L798.5,543.9 L801.6,543.2 L804.7,542.4 L807.7,541.5 L810.7,540.6 L813.8,539.6 L816.7,538.6 L819.7,537.4 L822.6,536.3 L825.5,535.0 L828.3,533.7 L831.2,532.3 L833.9,530.9 L836.7,529.4 L839.4,527.8 L842.0,526.1 L844.6,524.4 L847.2,522.7 L849.7,520.9 L852.2,519.0 L854.6,517.0 L857.0,515.0 L859.3,512.9 L861.5,510.8 L863.7,508.6 L865.8,506.3 L867.9,504.0 L869.9,501.7 L871.9,499.2 L873.7,496.8 L875.5,494.2 L877.3,491.6 L879.0,489.0 L880.6,486.3 L882.1,483.6 L883.5,480.8 L884.9,477.9 L886.2,475.0 L887.4,472.1 L888.6,469.1 L889.6,466.0 L890.6,462.9 L891.5,459.8 L892.2,456.6 L893.0,453.4 L893.6,450.1 L894.1,446.8 L894.5,443.4 L894.8,440.0 L895.1,436.6 L895.2,433.1 L895.2,429.6 L895.2,426.0 L895.0,422.4 L887.0,422.9 L887.2,426.3 L887.3,429.6 L887.3,432.9 L887.1,436.1 L886.9,439.4 L886.6,442.5 L886.3,445.7 L885.8,448.8 L885.2,451.8 L884.6,454.8 L883.9,457.8 L883.1,460.7 L882.2,463.6 L881.2,466.4 L880.2,469.2 L879.1,472.0 L877.9,474.7 L876.6,477.3 L875.3,479.9 L873.9,482.5 L872.4,485.0 L870.9,487.5 L869.2,489.9 L867.6,492.3 L865.8,494.6 L864.0,496.8 L862.2,499.1 L860.2,501.2 L858.3,503.3 L856.2,505.4 L854.1,507.4 L852.0,509.4 L849.8,511.3 L847.5,513.1 L845.2,514.9 L842.9,516.6 L840.5,518.3 L838.0,519.9 L835.6,521.4 L833.0,522.9 L830.4,524.4 L827.8,525.7 L825.2,527.1 L822.5,528.3 L819.8,529.5 L817.0,530.6 L814.2,531.7 L811.4,532.7 L808.5,533.7 L805.7,534.6 L802.8,535.4 L799.8,536.2 L796.9,536.9 L793.9,537.5 L790.9,538.1 L787.9,538.6 L784.9,539.1 L781.9,539.5 L778.9,539.8 L775.8,540.1 L772.8,540.3 L769.7,540.4 L766.6,540.5 L763.6,540.5 L760.5,540.4 L757.4,540.3 L754.4,540.1 L751.3,539.9 L748.3,539.6 L745.2,539.2 L742.2,538.8 L739.2,538.3 L736.1,537.7 L733.1,537.0 L730.2,536.3 L727.2,535.6 L724.3,534.7 L721.3,533.8 L718.5,532.9Z"/>
<path fill="none" stroke="#6d6864" stroke-width="8.8" stroke-linecap="butt" stroke-linejoin="round" d="M866.1,450.8 L893,419.4 L899.1,460.5"/>
<path fill="#6d6864" d="M330.7,729.0 L327.3,727.6 L323.8,726.4 L320.4,725.2 L316.8,724.1 L313.3,723.0 L309.7,722.1 L306.2,721.1 L302.6,720.3 L298.9,719.5 L295.3,718.8 L291.7,718.1 L288.0,717.6 L284.3,717.1 L280.6,716.6 L277.0,716.3 L273.3,716.0 L269.6,715.8 L265.9,715.6 L262.2,715.6 L258.5,715.6 L254.8,715.7 L251.1,715.8 L247.5,716.1 L243.8,716.4 L240.2,716.8 L236.6,717.3 L233.0,717.8 L229.4,718.5 L225.8,719.2 L222.3,720.0 L218.8,720.9 L215.3,721.9 L211.9,723.0 L208.4,724.1 L205.1,725.4 L201.7,726.7 L198.4,728.2 L195.1,729.7 L191.9,731.3 L188.7,733.0 L185.6,734.7 L182.5,736.6 L179.5,738.5 L176.5,740.5 L173.6,742.6 L170.8,744.8 L168.0,747.1 L165.2,749.4 L162.5,751.8 L159.9,754.3 L157.3,756.8 L154.8,759.4 L152.4,762.1 L150.0,764.8 L147.7,767.6 L145.5,770.5 L143.3,773.5 L141.2,776.5 L139.2,779.5 L137.3,782.6 L135.4,785.8 L133.6,789.0 L131.9,792.3 L130.3,795.6 L128.8,799.0 L127.3,802.5 L125.9,806.0 L124.7,809.5 L123.5,813.1 L122.4,816.7 L121.4,820.3 L120.4,824.1 L119.6,827.8 L118.9,831.6 L118.3,835.4 L117.7,839.3 L117.3,843.1 L117.0,847.1 L116.8,851.0 L124.8,851.3 L125.0,847.6 L125.3,843.9 L125.6,840.2 L126.1,836.6 L126.7,832.9 L127.4,829.4 L128.1,825.8 L129.0,822.3 L129.9,818.9 L130.9,815.4 L132.1,812.0 L133.3,808.7 L134.5,805.4 L135.9,802.1 L137.3,798.9 L138.9,795.8 L140.5,792.7 L142.1,789.6 L143.9,786.6 L145.7,783.7 L147.6,780.8 L149.6,777.9 L151.6,775.1 L153.7,772.4 L155.8,769.7 L158.1,767.1 L160.4,764.6 L162.7,762.1 L165.1,759.7 L167.6,757.3 L170.2,755.1 L172.7,752.9 L175.4,750.7 L178.1,748.6 L180.8,746.7 L183.6,744.7 L186.5,742.9 L189.4,741.1 L192.3,739.4 L195.3,737.8 L198.3,736.3 L201.4,734.9 L204.5,733.5 L207.7,732.2 L210.9,731.0 L214.1,729.9 L217.4,728.9 L220.7,728.0 L224.0,727.1 L227.4,726.3 L230.8,725.6 L234.2,725.0 L237.6,724.4 L241.1,723.9 L244.6,723.5 L248.0,723.2 L251.6,722.9 L255.1,722.8 L258.6,722.7 L262.1,722.6 L265.7,722.7 L269.2,722.8 L272.8,723.0 L276.3,723.3 L279.9,723.6 L283.4,724.0 L287.0,724.5 L290.5,725.0 L294.0,725.6 L297.6,726.3 L301.0,727.0 L304.5,727.8 L308.0,728.7 L311.4,729.7 L314.8,730.7 L318.2,731.7 L321.6,732.8 L324.9,734.0 L328.2,735.3Z"/>
<path fill="none" stroke="#6d6864" stroke-width="9.4" stroke-linecap="butt" stroke-linejoin="round" d="M114.8,805 L118.6,854 L152.4,818.6"/>
<path fill="#6d6864" d="M795.6,771.4 L798.8,770.3 L802.0,769.3 L805.3,768.3 L808.5,767.3 L811.8,766.5 L815.2,765.7 L818.5,764.9 L821.9,764.2 L825.2,763.6 L828.6,763.1 L832.0,762.6 L835.4,762.2 L838.8,761.9 L842.2,761.6 L845.6,761.4 L849.0,761.3 L852.4,761.2 L855.8,761.2 L859.2,761.3 L862.6,761.4 L866.0,761.6 L869.3,761.9 L872.7,762.2 L876.0,762.7 L879.3,763.1 L882.6,763.7 L885.9,764.3 L889.2,765.0 L892.4,765.8 L895.6,766.7 L898.8,767.6 L901.9,768.6 L905.0,769.7 L908.1,770.8 L911.1,772.0 L914.1,773.3 L917.1,774.7 L920.0,776.1 L922.9,777.6 L925.7,779.2 L928.5,780.9 L931.2,782.7 L933.9,784.5 L936.5,786.4 L939.1,788.3 L941.6,790.4 L944.1,792.5 L946.5,794.6 L948.9,796.9 L951.2,799.2 L953.4,801.5 L955.6,804.0 L957.7,806.5 L959.8,809.0 L961.8,811.6 L963.7,814.3 L965.5,817.0 L967.3,819.8 L969.0,822.6 L970.7,825.5 L972.2,828.4 L973.7,831.4 L975.1,834.4 L976.5,837.5 L977.7,840.6 L978.9,843.7 L980.0,846.9 L981.0,850.2 L982.0,853.5 L982.8,856.8 L983.6,860.1 L984.2,863.5 L984.8,866.9 L985.3,870.4 L985.7,873.9 L986.0,877.4 L986.2,881.0 L986.3,884.5 L986.3,888.1 L994.3,888.2 L994.3,884.4 L994.2,880.6 L993.9,876.8 L993.6,873.1 L993.2,869.4 L992.6,865.7 L992.0,862.1 L991.3,858.5 L990.5,854.9 L989.5,851.4 L988.5,847.9 L987.4,844.5 L986.3,841.1 L985.0,837.8 L983.6,834.4 L982.2,831.2 L980.7,828.0 L979.1,824.8 L977.4,821.7 L975.7,818.7 L973.8,815.7 L971.9,812.7 L969.9,809.9 L967.9,807.0 L965.8,804.3 L963.6,801.6 L961.3,799.0 L959.0,796.4 L956.6,793.9 L954.1,791.4 L951.6,789.1 L949.0,786.8 L946.4,784.6 L943.7,782.4 L940.9,780.3 L938.1,778.3 L935.3,776.4 L932.4,774.6 L929.4,772.8 L926.4,771.2 L923.3,769.6 L920.2,768.0 L917.1,766.6 L913.9,765.3 L910.7,764.0 L907.5,762.8 L904.2,761.7 L900.9,760.6 L897.5,759.7 L894.2,758.8 L890.8,758.0 L887.3,757.3 L883.9,756.6 L880.4,756.1 L877.0,755.6 L873.5,755.1 L870.0,754.8 L866.5,754.5 L862.9,754.3 L859.4,754.2 L855.9,754.1 L852.3,754.1 L848.8,754.2 L845.2,754.4 L841.7,754.6 L838.1,754.9 L834.6,755.3 L831.1,755.7 L827.5,756.2 L824.0,756.8 L820.5,757.4 L817.1,758.2 L813.6,758.9 L810.1,759.8 L806.7,760.7 L803.3,761.7 L799.9,762.7 L796.6,763.9 L793.3,765.0Z"/>
<path fill="none" stroke="#6d6864" stroke-width="9" stroke-linecap="butt" stroke-linejoin="round" d="M961.3,858.5 L991.4,892.2 L997.1,846.5"/>
<path fill="#6d6864" d="M554.6,995.9 L550.2,994.1 L545.7,992.3 L541.2,990.7 L536.6,989.1 L532.0,987.6 L527.4,986.2 L522.7,984.9 L518.0,983.7 L513.3,982.6 L508.6,981.5 L503.8,980.6 L499.0,979.7 L494.2,978.9 L489.4,978.3 L484.6,977.7 L479.7,977.2 L474.9,976.9 L470.0,976.6 L465.2,976.4 L460.3,976.4 L455.5,976.4 L450.7,976.5 L445.9,976.8 L441.0,977.2 L436.2,977.6 L431.5,978.2 L426.7,978.9 L422.0,979.7 L417.3,980.6 L412.6,981.6 L407.9,982.7 L403.3,984.0 L398.8,985.4 L394.2,986.9 L389.7,988.5 L385.3,990.2 L380.9,992.0 L376.5,994.0 L372.2,996.0 L368.0,998.2 L363.8,1000.5 L359.7,1002.8 L355.6,1005.3 L351.6,1007.9 L347.7,1010.6 L343.8,1013.4 L340.1,1016.3 L336.3,1019.3 L332.7,1022.3 L329.1,1025.5 L325.7,1028.8 L322.3,1032.1 L318.9,1035.6 L315.7,1039.1 L312.6,1042.7 L309.5,1046.4 L306.6,1050.2 L303.7,1054.1 L301.0,1058.0 L298.3,1062.0 L295.8,1066.1 L293.3,1070.3 L291.0,1074.6 L288.7,1078.9 L286.6,1083.3 L284.6,1087.7 L282.7,1092.2 L281.0,1096.8 L279.3,1101.5 L277.8,1106.2 L276.4,1111.0 L275.1,1115.8 L274.0,1120.7 L273.0,1125.6 L272.1,1130.6 L271.4,1135.7 L270.8,1140.8 L270.4,1145.9 L270.1,1151.1 L279.6,1151.5 L279.8,1146.6 L280.2,1141.7 L280.8,1136.9 L281.5,1132.1 L282.3,1127.4 L283.2,1122.7 L284.3,1118.0 L285.5,1113.5 L286.8,1108.9 L288.2,1104.5 L289.7,1100.1 L291.4,1095.7 L293.2,1091.4 L295.1,1087.2 L297.1,1083.0 L299.2,1078.9 L301.4,1074.9 L303.7,1070.9 L306.1,1067.0 L308.6,1063.2 L311.2,1059.5 L313.9,1055.8 L316.7,1052.2 L319.6,1048.7 L322.6,1045.2 L325.6,1041.8 L328.8,1038.6 L332.0,1035.4 L335.3,1032.3 L338.7,1029.2 L342.1,1026.3 L345.7,1023.4 L349.3,1020.7 L352.9,1018.0 L356.7,1015.5 L360.5,1013.0 L364.3,1010.6 L368.2,1008.3 L372.2,1006.2 L376.2,1004.1 L380.3,1002.1 L384.4,1000.2 L388.6,998.5 L392.9,996.8 L397.1,995.3 L401.4,993.9 L405.8,992.5 L410.2,991.3 L414.6,990.2 L419.1,989.3 L423.6,988.4 L428.1,987.6 L432.6,986.9 L437.2,986.4 L441.8,985.9 L446.4,985.6 L451.0,985.3 L455.7,985.2 L460.3,985.1 L465.0,985.2 L469.7,985.3 L474.3,985.6 L479.0,985.9 L483.6,986.4 L488.3,986.9 L492.9,987.5 L497.6,988.2 L502.2,989.1 L506.8,990.0 L511.4,991.0 L516.0,992.0 L520.5,993.2 L525.0,994.5 L529.5,995.8 L533.9,997.2 L538.3,998.7 L542.7,1000.3 L547.0,1002.0 L551.3,1003.7Z"/>
<path fill="none" stroke="#6d6864" stroke-width="12.5" stroke-linecap="butt" stroke-linejoin="round" d="M268,1094 L273,1158 L317.4,1112.6"/>
<path fill="#6d6864" d="M689.0,1008.8 L693.3,1008.2 L697.7,1007.7 L702.0,1007.3 L706.4,1006.9 L710.7,1006.7 L715.1,1006.5 L719.5,1006.5 L723.9,1006.5 L728.3,1006.6 L732.6,1006.8 L737.0,1007.1 L741.4,1007.5 L745.7,1007.9 L750.1,1008.5 L754.4,1009.1 L758.7,1009.9 L763.0,1010.7 L767.2,1011.6 L771.5,1012.6 L775.7,1013.7 L779.8,1014.9 L784.0,1016.2 L788.1,1017.5 L792.1,1019.0 L796.1,1020.5 L800.1,1022.2 L804.0,1023.9 L807.9,1025.7 L811.7,1027.6 L815.5,1029.6 L819.2,1031.6 L822.8,1033.8 L826.4,1036.1 L829.9,1038.4 L833.4,1040.9 L836.8,1043.4 L840.1,1046.0 L843.3,1048.7 L846.5,1051.5 L849.6,1054.3 L852.6,1057.3 L855.6,1060.3 L858.5,1063.4 L861.3,1066.5 L864.0,1069.8 L866.6,1073.1 L869.2,1076.4 L871.6,1079.8 L874.0,1083.3 L876.3,1086.9 L878.5,1090.5 L880.6,1094.2 L882.6,1097.9 L884.5,1101.7 L886.3,1105.5 L888.0,1109.4 L889.6,1113.3 L891.2,1117.3 L892.6,1121.3 L893.9,1125.3 L895.1,1129.4 L896.2,1133.6 L897.2,1137.8 L898.0,1142.0 L898.8,1146.2 L899.4,1150.5 L900.0,1154.8 L900.4,1159.1 L900.7,1163.4 L900.8,1167.8 L900.9,1172.2 L900.8,1176.6 L900.6,1181.1 L900.3,1185.5 L899.8,1190.0 L899.2,1194.5 L898.5,1199.0 L897.7,1203.5 L896.7,1208.0 L905.9,1210.1 L907.0,1205.3 L907.8,1200.6 L908.6,1195.8 L909.2,1191.1 L909.7,1186.3 L910.0,1181.6 L910.2,1176.9 L910.3,1172.2 L910.2,1167.6 L910.0,1162.9 L909.7,1158.3 L909.2,1153.7 L908.7,1149.2 L908.0,1144.7 L907.2,1140.2 L906.2,1135.7 L905.2,1131.3 L904.0,1126.9 L902.7,1122.6 L901.3,1118.3 L899.8,1114.1 L898.2,1109.9 L896.5,1105.7 L894.7,1101.7 L892.7,1097.6 L890.7,1093.6 L888.6,1089.7 L886.3,1085.8 L884.0,1082.0 L881.6,1078.3 L879.1,1074.6 L876.5,1071.0 L873.8,1067.5 L871.0,1064.0 L868.1,1060.6 L865.2,1057.3 L862.1,1054.0 L859.0,1050.9 L855.8,1047.8 L852.5,1044.8 L849.1,1041.9 L845.7,1039.0 L842.2,1036.3 L838.6,1033.6 L835.0,1031.1 L831.3,1028.6 L827.5,1026.2 L823.6,1023.9 L819.7,1021.8 L815.7,1019.7 L811.7,1017.7 L807.7,1015.8 L803.5,1014.0 L799.4,1012.3 L795.2,1010.7 L790.9,1009.2 L786.6,1007.8 L782.3,1006.5 L777.9,1005.3 L773.6,1004.1 L769.1,1003.1 L764.7,1002.2 L760.2,1001.3 L755.7,1000.6 L751.2,999.9 L746.7,999.3 L742.2,998.9 L737.7,998.5 L733.1,998.2 L728.6,998.0 L724.0,997.9 L719.4,997.9 L714.9,998.0 L710.3,998.1 L705.8,998.4 L701.3,998.8 L696.7,999.2 L692.2,999.8 L687.8,1000.4Z"/>
<path fill="none" stroke="#6d6864" stroke-width="12" stroke-linecap="butt" stroke-linejoin="round" d="M872.7,1163.3 L901.2,1214.7 L921,1158.8"/>
</svg>
<div style="position:absolute;left:470px;top:65px;font-family:'Liberation Serif',serif;font-style:italic;color:#4e2b1a;font-size:70px;line-height:70px;white-space:nowrap;letter-spacing:-1px;-webkit-text-stroke:0.9px #fff;">Product</div>
<div class="dl" style="left:398.1px;transform:scaleX(0.932);">D</div>
<div class="dl" style="left:464.0px;transform:scaleX(0.9);">E</div>
<div class="dl" style="left:516.8px;transform:scaleX(0.873);">T</div>
<div class="dl" style="left:566.5px;transform:scaleX(0.897);">A</div>
<div class="dl" style="left:629.7px;transform:scaleX(0.648);">I</div>
<div class="dl" style="left:657.2px;transform:scaleX(0.861);">L</div>
<div class="dl" style="left:702.0px;transform:scaleX(1.105);">S</div>

<div class="t" style="left:57.2px;top:309.8px;letter-spacing:0.48px;">Easy to Put On and</div>
<div class="t" style="left:142.2px;top:353.5px;letter-spacing:1.54px;">Take Off</div>
<div class="t" style="left:822.2px;top:310.7px;letter-spacing:1.14px;">Breathable</div>
<div class="t" style="left:845.5px;top:354.7px;letter-spacing:1.39px;">Material</div>
<div class="t" style="left:93.1px;top:883px;letter-spacing:2.93px;">Wool</div>
<div class="t" style="left:99px;top:927px;letter-spacing:1.03px;">Yarn</div>
<div class="t" style="left:893.7px;top:902.8px;letter-spacing:0.8px;">Warmth &amp;</div>
<div class="t" style="left:887.2px;top:946.8px;letter-spacing:1.68px;">Protection</div>
<div class="t" style="left:92.6px;top:1191px;letter-spacing:1.36px;">Soft and Comfortable</div>
<div class="t" style="left:710.2px;top:1241.5px;letter-spacing:0.92px;">Cute &amp; Stylish Design</div>
</body>
</html>
